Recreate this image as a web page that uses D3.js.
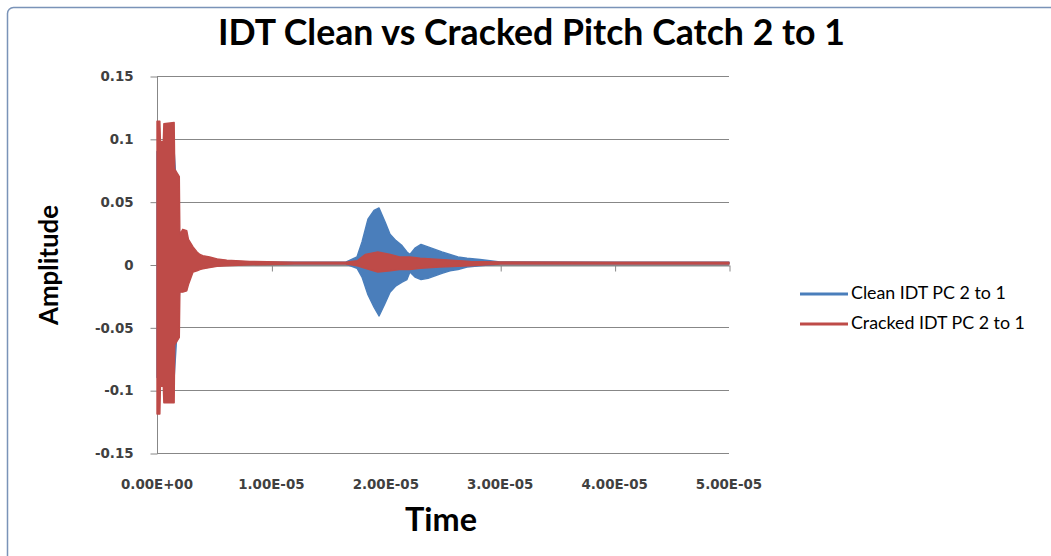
<!DOCTYPE html>
<html>
<head>
<meta charset="utf-8">
<script src="https://cdn.jsdelivr.net/npm/d3@7"></script>
<style>
  html, body { margin: 0; padding: 0; background: #fff; }
  svg { display: block; }
</style>
</head>
<body>
<svg id="chart" width="1051" height="556"></svg>
<script>
// ---------- DATA ----------
const chartTitle = "IDT Clean vs Cracked Pitch Catch 2 to 1";
const xTitle = "Time";
const yTitle = "Amplitude";
const seriesNames = ["Clean IDT PC 2 to 1", "Cracked IDT PC 2 to 1"];

const yTickValues = [-0.15, -0.1, -0.05, 0, 0.05, 0.1, 0.15];
const yTickLabels = ["-0.15", "-0.1", "-0.05", "0", "0.05", "0.1", "0.15"];
const xTickValues = [0, 1e-5, 2e-5, 3e-5, 4e-5, 5e-5];
const xTickLabels = ["0.00E+00", "1.00E-05", "2.00E-05", "3.00E-05", "4.00E-05", "5.00E-05"];

// Clean signal: time (microseconds) and upper / lower envelope of the oscillation
const cleanTimeUs = [0, 1.5, 2.0, 3.0, 5.0, 8.0, 16.5, 17.48, 17.92, 18.44, 18.97, 19.41, 19.93, 20.37, 20.89, 21.42, 21.85, 22.11, 22.55, 23.08, 23.69, 24.30, 24.91, 25.61, 26.31, 27.10, 28.23, 29.98, 40, 50];
const cleanUpper = [0.09, 0.09, 0.02, 0.008, 0.003, 0.0018, 0.0018, 0.006, 0.018, 0.036, 0.043, 0.045, 0.034, 0.024, 0.019, 0.015, 0.010, 0.008, 0.013, 0.016, 0.014, 0.012, 0.010, 0.008, 0.006, 0.005, 0.004, 0.002, 0.0018, 0.0018];
const cleanLower = [-0.09, -0.09, -0.018, -0.004, -0.001, 0.0004, 0.0004, -0.003, -0.010, -0.024, -0.034, -0.041, -0.031, -0.022, -0.017, -0.014, -0.012, -0.006, -0.010, -0.012, -0.011, -0.009, -0.007, -0.005, -0.004, -0.002, -0.001, 0.0003, 0.0004, 0.0004];

// Cracked signal
const crackedTimeUs = [0, 0.25, 0.3, 0.55, 0.6, 1.5, 1.55, 1.95, 2.0, 2.25, 2.6, 2.75, 3.15, 3.5, 3.75, 4.0, 4.6, 5.25, 6.1, 8.1, 12, 16.5, 17.5, 18.2, 19.3, 20.4, 21.2, 22.1, 23.0, 24.7, 27.4, 30, 40, 50];
const crackedUpper = [0.114, 0.114, 0.098, 0.098, 0.112, 0.113, 0.076, 0.070, 0.024, 0.028, 0.027, 0.020, 0.014, 0.010, 0.008, 0.007, 0.006, 0.0045, 0.0035, 0.0025, 0.0018, 0.0018, 0.003, 0.008, 0.010, 0.008, 0.006, 0.006, 0.005, 0.004, 0.0025, 0.002, 0.0018, 0.0018];
const crackedLower = [-0.119, -0.119, -0.097, -0.097, -0.110, -0.110, -0.064, -0.058, -0.022, -0.022, -0.021, -0.016, -0.006, -0.005, -0.004, -0.0035, -0.0025, -0.0015, -0.001, -0.0002, 0.0004, 0.0004, -0.001, -0.003, -0.006, -0.005, -0.004, -0.004, -0.003, -0.002, -0.001, 0.0003, 0.0004, 0.0004];

// ---------- STYLE / LAYOUT ----------
const colors = ["#4a7ebb", "#be4b48"];
const gridColor = "#878787";
const textColor = "#404040";
const plot = { left: 157, right: 729, top: 76, bottom: 453 };
const baseFont = "Lato, 'Open Sans', 'DejaVu Sans', sans-serif";
const tickFont = "'DejaVu Sans', sans-serif";

const svg = d3.select("#chart");

// chart border
svg.append("rect")
  .attr("x", 7.5).attr("y", 7.5)
  .attr("width", 1100).attr("height", 600)
  .attr("rx", 6)
  .attr("fill", "#fff")
  .attr("stroke", "#7a93b8")
  .attr("stroke-width", 1.5);

const x = d3.scaleLinear().domain([0, 5e-5]).range([plot.left, plot.right]);
const y = d3.scaleLinear().domain([-0.15, 0.15]).range([plot.bottom, plot.top]);

// fit helper
function fitText(sel, targetWidth, baseSize) {
  const node = sel.node();
  const w = node.getComputedTextLength();
  let s = baseSize;
  if (w > 0) {
    s = baseSize * targetWidth / w;
    sel.style("font-size", s.toFixed(2) + "px");
  }
  return s;
}

// gridlines
svg.append("g")
  .selectAll("line")
  .data(yTickValues)
  .join("line")
  .attr("x1", plot.left).attr("x2", plot.right)
  .attr("y1", d => Math.round(y(d)) + 0.5).attr("y2", d => Math.round(y(d)) + 0.5)
  .attr("stroke", gridColor).attr("stroke-width", 1);

// x tick labels (at the bottom) - sized so that a label is ~72px wide
const xLabels = svg.append("g")
  .selectAll("text")
  .data(xTickValues)
  .join("text")
  .attr("x", d => x(d))
  .attr("y", plot.bottom + 36)
  .attr("text-anchor", "middle")
  .attr("fill", textColor)
  .style("font-family", tickFont)
  .style("font-size", "12px")
  .style("font-weight", "bold")
  .text((d, i) => xTickLabels[i]);
const tickSize = fitText(d3.select(xLabels.nodes()[0]), 72, 12);
xLabels.style("font-size", tickSize.toFixed(2) + "px");

// y axis
const yAxis = d3.axisLeft(y)
  .tickValues(yTickValues)
  .tickFormat((d, i) => yTickLabels[i])
  .tickSize(7)
  .tickPadding(17);
const gy = svg.append("g").attr("transform", `translate(${plot.left + 0.5},0.5)`).call(yAxis);
gy.select(".domain").attr("stroke", gridColor).attr("d", `M0,${y(0.15)}V${y(-0.15)}`);
gy.selectAll(".tick line").attr("stroke", gridColor);
gy.selectAll(".tick text")
  .attr("fill", textColor)
  .style("font-family", tickFont)
  .style("font-size", tickSize.toFixed(2) + "px")
  .style("font-weight", "bold");

// x axis at zero line (ticks)
const xAxis = d3.axisBottom(x).tickValues(xTickValues).tickFormat("").tickSize(6).tickSizeOuter(0);
const gx = svg.append("g").attr("transform", `translate(0.5,${Math.round(y(0)) + 0.5})`).call(xAxis);
gx.select(".domain").attr("stroke", gridColor);
gx.selectAll(".tick line").attr("stroke", gridColor);

// series as envelope areas
function build(tUs, up, lo) {
  return tUs.map((t, i) => ({ t: t * 1e-6, hi: up[i], lo: lo[i] }));
}
const series = [
  build(cleanTimeUs, cleanUpper, cleanLower),
  build(crackedTimeUs, crackedUpper, crackedLower)
];
const area = d3.area()
  .x(d => x(d.t))
  .y0(d => y(d.lo))
  .y1(d => y(d.hi))
  .curve(d3.curveLinear);

series.forEach((s, i) => {
  svg.append("path")
    .datum(s)
    .attr("d", area)
    .attr("fill", colors[i])
    .attr("stroke", colors[i])
    .attr("stroke-width", 1.4)
    .attr("stroke-linejoin", "round");
});

// title
const title = svg.append("text")
  .attr("x", 531.5).attr("y", 45)
  .attr("text-anchor", "middle")
  .attr("fill", "#000")
  .style("font-family", baseFont)
  .style("font-weight", "bold")
  .style("font-size", "28px")
  .text(chartTitle);
fitText(title, 627, 28);

// axis titles
const xt = svg.append("text")
  .attr("x", 441).attr("y", 531)
  .attr("text-anchor", "middle")
  .attr("fill", "#000")
  .style("font-family", baseFont)
  .style("font-weight", "bold")
  .style("font-size", "26px")
  .text(xTitle);
fitText(xt, 72, 26);

const yt = svg.append("text")
  .attr("transform", "translate(58,265) rotate(-90)")
  .attr("text-anchor", "middle")
  .attr("fill", "#000")
  .style("font-family", baseFont)
  .style("font-weight", "bold")
  .style("font-size", "25px")
  .text(yTitle);
fitText(yt, 120, 25);

// legend
const legendY = [294, 324];
const lg = svg.append("g");
seriesNames.forEach((name, i) => {
  lg.append("line")
    .attr("x1", 800).attr("x2", 848)
    .attr("y1", legendY[i]).attr("y2", legendY[i])
    .attr("stroke", colors[i]).attr("stroke-width", 2.8);
  const t = lg.append("text")
    .attr("x", 851).attr("y", legendY[i] + 5)
    .attr("fill", "#000")
    .style("font-family", baseFont)
    .style("font-size", "15px")
    .text(name);
  if (i === 1) fitText(t, 174, 15);
});
const sz = lg.selectAll("text").filter((d, i) => i === 1).style("font-size");
lg.selectAll("text").style("font-size", sz);
</script>
</body>
</html>
